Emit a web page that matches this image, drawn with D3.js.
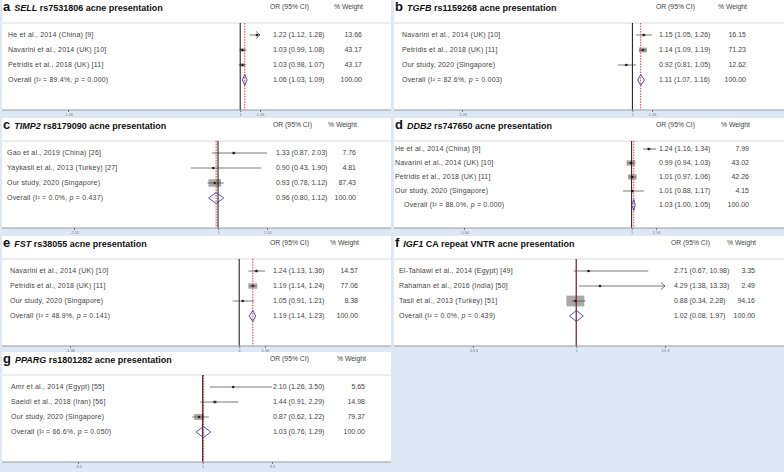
<!DOCTYPE html>
<html>
<head>
<meta charset="utf-8">
<script src="https://cdn.jsdelivr.net/npm/d3@7"></script>
<style>
  body { margin: 0; background: #dde8f4; }
  svg { display: block; font-family: "Liberation Sans", Arial, sans-serif; }
</style>
</head>
<body>
<div id="chart"></div>
<script>
// Datos de cada panel (a-g)
const panelLetters = ["a", "b", "c", "d", "e", "f", "g"];
const genes = ["SELL", "TGFB", "TIMP2", "DDB2", "FST", "IGF1", "PPARG"];
const variants = ["rs7531806", "rs1159268", "rs8179090", "rs747650", "rs38055", "CA repeat VNTR", "rs1801282"];

const studyNames = [
    ["He et al., 2014 (China) [9]", "Navarini et al., 2014 (UK) [10]", "Petridis et al., 2018 (UK) [11]"],
    ["Navarini et al., 2014 (UK) [10]", "Petridis et al., 2018 (UK) [11]", "Our study, 2020 (Singapore)"],
    ["Gao et al., 2019 (China) [26]", "Yaykasli et al., 2013 (Turkey) [27]", "Our study, 2020 (Singapore)"],
    ["He et al., 2014 (China) [9]", "Navarini et al., 2014 (UK) [10]", "Petridis et al., 2018 (UK) [11]", "Our study, 2020 (Singapore)"],
    ["Navarini et al., 2014 (UK) [10]", "Petridis et al., 2018 (UK) [11]", "Our study, 2020 (Singapore)"],
    ["El-Tahlawi et al., 2014 (Egypt) [49]", "Rahaman et al., 2016 (India) [50]", "Tasli et al., 2013 (Turkey) [51]"],
    ["Amr et al., 2014 (Egypt) [55]", "Saeidi et al., 2018 (Iran) [56]", "Our study, 2020 (Singapore)"]
];
const studyOR = [
    [1.22, 1.03, 1.03], [1.15, 1.14, 0.92], [1.33, 0.90, 0.93], [1.24, 0.99, 1.01, 1.01],
    [1.24, 1.19, 1.05], [2.71, 4.29, 0.88], [2.10, 1.44, 0.87]
];
const studyLo = [
    [1.12, 0.99, 0.98], [1.05, 1.09, 0.81], [0.87, 0.43, 0.78], [1.16, 0.94, 0.97, 0.88],
    [1.13, 1.14, 0.91], [0.67, 1.38, 0.34], [1.26, 0.91, 0.62]
];
const studyHi = [
    [1.28, 1.08, 1.07], [1.26, 1.19, 1.05], [2.03, 1.90, 1.12], [1.34, 1.03, 1.06, 1.17],
    [1.36, 1.24, 1.21], [10.98, 13.33, 2.28], [3.50, 2.29, 1.22]
];
const studyWeight = [
    [13.66, 43.17, 43.17], [16.15, 71.23, 12.62], [7.76, 4.81, 87.43], [7.99, 43.02, 42.26, 4.15],
    [14.57, 77.06, 8.38], [3.35, 2.49, 94.16], [5.65, 14.98, 79.37]
];
const overallOR = [1.06, 1.11, 0.96, 1.03, 1.19, 1.02, 1.03];
const overallLo = [1.03, 1.07, 0.80, 1.00, 1.14, 0.08, 0.76];
const overallHi = [1.09, 1.16, 1.12, 1.05, 1.23, 1.97, 1.29];
const overallI2 = ["89.4", "82.6", "0.0", "88.0", "48.9", "0.0", "66.6"];
const overallP = ["0.000", "0.003", "0.437", "0.000", "0.141", "0.439", "0.050"];
const axisMax = [1.26, 1.26, 2.03, 1.34, 1.36, 13.3, 3.5];

// Disposición (coordenadas locales de cada panel)
const width = 784, height = 472;
const rowTops = [0, 118, 236, 352];
const xRanges = [[68, 260], [70, 260], [74, 267], [72, 264], [70, 265], [81, 273], [78, 272]];
const boxScale = [0.8, 0.95, 1.35, 1.35, 1.02, 1.85, 1.12];
const ciX = [273, 267, 276, 267, 273, 282, 273];
const weightX = [362, 354, 356, 357, 358, 363, 365];
const labelX = [8, 10, 7, 3, 10, 7, 11];

const fmt = d3.format(".2f");

const svg = d3.select("#chart").append("svg")
    .attr("width", width)
    .attr("height", height)
    .style("background", "#dde8f4");

panelLetters.forEach((letter, i) => {
    const col = i % 2;
    const row = Math.floor(i / 2);
    const g = svg.append("g").attr("transform", `translate(${col * 392},${rowTops[row]})`);
    const M = axisMax[i];
    const axisY = 110;
    const headY = 23;

    // Fondo blanco
    g.append("rect")
        .attr("x", 2).attr("y", 0)
        .attr("width", col === 0 ? 389 : 390).attr("height", axisY)
        .attr("fill", "#fff");

    // Título
    const title = g.append("text").attr("x", 3).attr("y", 11).attr("fill", "#111");
    title.append("tspan").attr("font-size", 13).attr("font-weight", "bold").text(letter);
    title.append("tspan").attr("dx", 4).attr("font-size", 9).attr("font-weight", "bold")
        .attr("font-style", "italic").text(genes[i]);
    title.append("tspan").attr("font-size", 9).attr("font-weight", "bold")
        .text(` ${variants[i]} acne presentation`);

    // Cabeceras
    g.append("text").attr("x", ciX[i] - 3).attr("y", 9).attr("font-size", 6.8).attr("fill", "#444")
        .text("OR (95% CI)");
    g.append("text").attr("x", weightX[i] + 1).attr("y", 9).attr("font-size", 6.8).attr("fill", "#444")
        .attr("text-anchor", "end").text("% Weight");

    g.append("line")
        .attr("x1", 2).attr("x2", col === 0 ? 391 : 392)
        .attr("y1", headY).attr("y2", headY)
        .attr("stroke", "#d8d8d8").attr("stroke-width", 1);

    // Escalas
    const x = d3.scaleLinear().domain([-M, M]).range(xRanges[i]);
    const n = studyNames[i].length + 1;
    const start = n === 5 ? 31 : 35;
    const step = n === 5 ? 14 : 15;
    const y = d3.scalePoint().domain(d3.range(n)).range([start, start + step * (n - 1)]);

    const studies = studyNames[i].map((name, j) => ({
        name, or: studyOR[i][j], lo: studyLo[i][j], hi: studyHi[i][j], w: studyWeight[i][j], j
    }));

    // Cajas
    g.append("g").selectAll("rect")
        .data(studies)
        .enter()
        .append("rect")
        .attr("x", d => x(d.or) - boxScale[i] * Math.sqrt(d.w) / 2)
        .attr("y", d => y(d.j) - boxScale[i] * Math.sqrt(d.w) * 0.3)
        .attr("width", d => boxScale[i] * Math.sqrt(d.w))
        .attr("height", d => boxScale[i] * Math.sqrt(d.w) * 0.6)
        .attr("fill", "#a9a9a9");

    // Intervalos
    g.append("g").selectAll("line")
        .data(studies)
        .enter()
        .append("line")
        .attr("x1", d => x(d.lo))
        .attr("x2", d => x(Math.min(d.hi, M)))
        .attr("y1", d => y(d.j)).attr("y2", d => y(d.j))
        .attr("stroke", "#555").attr("stroke-width", 0.8);

    // Flecha cuando el IC supera el eje
    g.append("g").selectAll("path")
        .data(studies.filter(d => d.hi > M))
        .enter()
        .append("path")
        .attr("d", d => `M${x(M) - 4},${y(d.j) - 3.5}L${x(M)},${y(d.j)}L${x(M) - 4},${y(d.j) + 3.5}`)
        .attr("fill", "none").attr("stroke", "#555").attr("stroke-width", 0.8);

    g.append("g").selectAll("circle")
        .data(studies)
        .enter()
        .append("circle")
        .attr("cx", d => x(d.or)).attr("cy", d => y(d.j))
        .attr("r", 1.2).attr("fill", "#222");

    // Línea nula y línea del efecto global
    g.append("line")
        .attr("x1", x(1)).attr("x2", x(1))
        .attr("y1", headY).attr("y2", axisY)
        .attr("stroke", "#111").attr("stroke-width", 1);
    g.append("line")
        .attr("x1", x(overallOR[i])).attr("x2", x(overallOR[i]))
        .attr("y1", headY).attr("y2", axisY)
        .attr("stroke", "#d22").attr("stroke-width", 0.9)
        .attr("stroke-dasharray", "1.5,1.2");

    // Diamante global
    const oy = y(n - 1);
    g.append("path")
        .attr("d", `M${x(overallLo[i])},${oy}L${x(overallOR[i])},${oy - 5.5}L${x(overallHi[i])},${oy}L${x(overallOR[i])},${oy + 5.5}Z`)
        .attr("fill", "none").attr("stroke", "#3c3ca8").attr("stroke-width", 0.9);

    // Textos de filas
    const labels = g.append("g").attr("font-size", 7).attr("fill", "#444");
    studies.forEach(d => {
        labels.append("text").attr("x", labelX[i]).attr("y", y(d.j)).attr("dy", "0.35em")
            .attr("letter-spacing", 0.2).text(d.name);
        labels.append("text").attr("x", ciX[i]).attr("y", y(d.j)).attr("dy", "0.35em")
            .text(`${fmt(d.or)} (${fmt(d.lo)}, ${fmt(d.hi)})`);
        labels.append("text").attr("x", weightX[i]).attr("y", y(d.j)).attr("dy", "0.35em")
            .attr("text-anchor", "end").text(fmt(d.w));
    });
    const ov = labels.append("text").attr("x", i === 3 ? 12 : labelX[i]).attr("y", oy)
        .attr("dy", "0.35em").attr("letter-spacing", 0.2);
    ov.append("tspan").text(`Overall (I² = ${overallI2[i]}%, `);
    ov.append("tspan").attr("font-style", "italic").text("p");
    ov.append("tspan").text(` = ${overallP[i]})`);
    labels.append("text").attr("x", ciX[i]).attr("y", oy).attr("dy", "0.35em")
        .text(`${fmt(overallOR[i])} (${fmt(overallLo[i])}, ${fmt(overallHi[i])})`);
    labels.append("text").attr("x", weightX[i]).attr("y", oy).attr("dy", "0.35em")
        .attr("text-anchor", "end").text("100.00");

    // Eje
    g.append("line")
        .attr("x1", 2).attr("x2", col === 0 ? 391 : 392)
        .attr("y1", axisY).attr("y2", axisY)
        .attr("stroke", "#999").attr("stroke-width", 1);
    const axis = g.append("g")
        .attr("transform", `translate(0,${axisY})`)
        .call(d3.axisBottom(x).tickValues([-M, 1, M]).tickSize(2).tickPadding(1)
            .tickFormat(d => d === 1 ? "1" : String(d)));
    axis.select(".domain").remove();
    axis.selectAll("line").attr("stroke", "#777");
    axis.selectAll("text").attr("font-size", 4).attr("fill", "#777")
        .attr("font-family", "\"Liberation Sans\", Arial, sans-serif");
});
</script>
</body>
</html>
